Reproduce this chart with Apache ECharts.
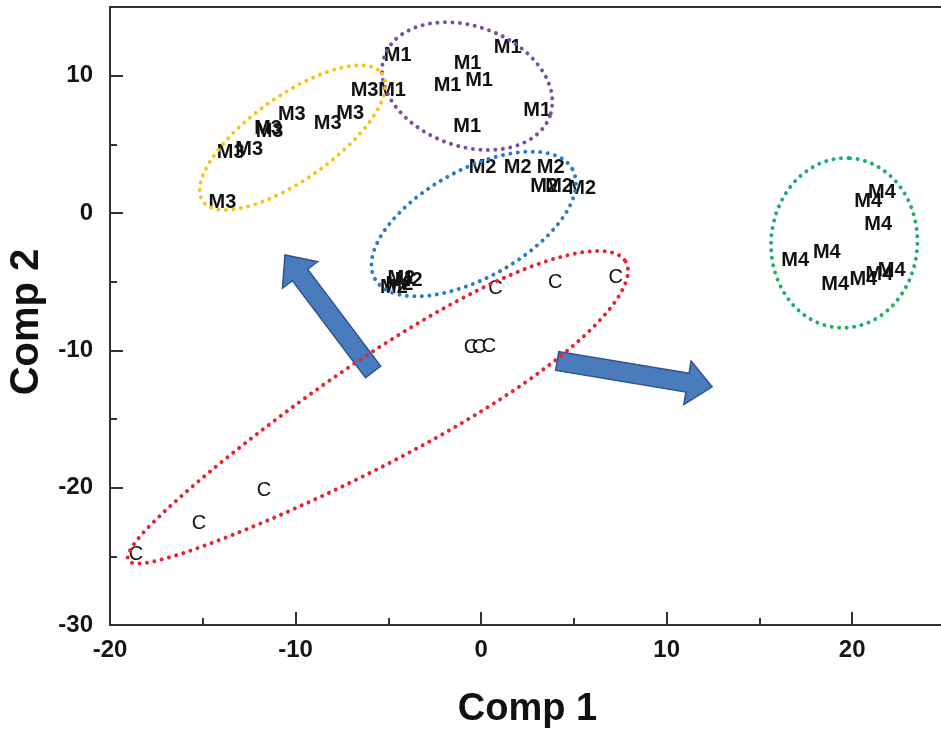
<!DOCTYPE html>
<html>
<head>
<meta charset="utf-8">
<script src="https://cdn.jsdelivr.net/npm/echarts@6/dist/echarts.min.js"></script>
<style>
  html, body { margin: 0; padding: 0; background: #ffffff; }
  #chart { width: 941px; height: 732px; }
</style>
</head>
<body>
<div id="chart"></div>
<script>
// Score plot: sample labels placed at their (Comp 1, Comp 2) coordinates
const xTickValues = [-20, -10, 0, 10, 20];
const yTickValues = [-30, -20, -10, 0, 10];

const m1Scores = [[-4.5, 11.46], [1.43, 12.04], [-0.73, 10.88], [-1.81, 9.32], [-0.11, 9.68],
                  [-4.8, 8.95], [3.02, 7.5], [-0.75, 6.33]];
const m2Scores = [[0.08, 3.31], [1.97, 3.31], [3.75, 3.31], [3.4, 1.95], [4.2, 1.9], [5.45, 1.75],
                  [-4.3, -4.8], [-3.9, -4.9], [-4.7, -5.4], [-4.4, -5.2]];
const m3Scores = [[-6.28, 8.92], [-10.2, 7.17], [-11.48, 6.15], [-11.4, 5.95], [-8.27, 6.51],
                  [-7.06, 7.24], [-13.5, 4.44], [-12.5, 4.62], [-13.94, 0.76]];
const m4Scores = [[21.6, 1.49], [20.86, 0.84], [21.4, -0.87], [18.63, -2.87], [16.93, -3.46],
                  [19.08, -5.2], [20.6, -4.84], [21.46, -4.48], [22.13, -4.15]];
const cScores = [[-11.7, -20.2], [-15.2, -22.6], [-18.6, -24.85], [0.78, -5.5], [4.0, -5.06],
                 [7.25, -4.7], [-0.54, -9.8], [-0.11, -9.8], [0.43, -9.7]];

// Dotted group outlines: centre in data units, semi-axes in Comp 1 units, tilt in screen degrees
const outlineCenters = [[-0.75, 9.24], [-10.16, 5.49], [-0.4, -0.8], [19.57, -2.18], [-5.61, -14.41]];
const outlineMajor   = [4.74, 5.93, 6.09, 4.58, 15.63];
const outlineMinor   = [3.23, 2.26, 2.91, 3.94, 2.8];
const outlineTilt    = [20, -35.4, -29, -86, -31];
const outlineTaper   = [0, 0, 0, 0, 0.3];
const outlineColors  = ['#7a4ea8', '#f7c51a', '#2a7cc7', '#1faf66', '#e8222f'];

// Shift arrows: tail and tip in data units
const arrowTails = [[-5.82, -11.57], [4.1, -10.77]];
const arrowTips  = [[-10.57, -3.06], [12.45, -12.66]];

const FONT = '"Liberation Sans", Arial, sans-serif';
const chart = echarts.init(document.getElementById('chart'), null, { renderer: 'canvas' });

function renderOutline(params, api) {
  const i = params.dataIndex;
  const unit = api.size([1, 0])[0];
  const c = api.coord(outlineCenters[i]);
  const th = outlineTilt[i] * Math.PI / 180;
  const a = outlineMajor[i] * unit;
  const b0 = outlineMinor[i] * unit;
  const k = outlineTaper[i];
  const pts = [];
  const n = 240;
  for (let s = 0; s < n; s++) {
    const t = s / n * 2 * Math.PI;
    const b = b0 * (1 + k * Math.cos(t));
    const ex = a * Math.cos(t);
    const ey = b * Math.sin(t);
    pts.push([c[0] + ex * Math.cos(th) - ey * Math.sin(th),
              c[1] + ex * Math.sin(th) + ey * Math.cos(th)]);
  }
  return {
    type: 'polygon',
    shape: { points: pts },
    style: {
      fill: 'none',
      stroke: outlineColors[i],
      lineWidth: 4,
      lineDash: [0.01, 7.5],
      lineCap: 'round'
    }
  };
}

function renderArrow(params, api) {
  const i = params.dataIndex;
  const p0 = api.coord(arrowTails[i]);
  const p1 = api.coord(arrowTips[i]);
  const dx = p1[0] - p0[0], dy = p1[1] - p0[1];
  const len = Math.sqrt(dx * dx + dy * dy);
  const ux = dx / len, uy = dy / len;
  const nx = -uy, ny = ux;
  const shaft = 9.5, head = 22, headLen = 25;
  const bx = p1[0] - ux * headLen, by = p1[1] - uy * headLen;
  const pts = [
    [p0[0] + nx * shaft, p0[1] + ny * shaft],
    [bx + nx * shaft, by + ny * shaft],
    [bx + nx * head, by + ny * head],
    [p1[0], p1[1]],
    [bx - nx * head, by - ny * head],
    [bx - nx * shaft, by - ny * shaft],
    [p0[0] - nx * shaft, p0[1] - ny * shaft]
  ];
  return {
    type: 'polygon',
    shape: { points: pts },
    style: { fill: '#4a7cbd', stroke: '#2f5690', lineWidth: 1.5 }
  };
}

// Each sample is drawn as its group name, centred on its score
function labelSeries(name, data, weight, size) {
  return {
    name: name,
    type: 'custom',
    data: data,
    encode: { x: 0, y: 1 },
    clip: false,
    silent: true,
    z: 3,
    renderItem: function (params, api) {
      const p = api.coord([api.value(0), api.value(1)]);
      return {
        type: 'text',
        x: p[0],
        y: p[1],
        style: {
          text: name,
          font: weight + ' ' + size + 'px ' + FONT,
          fill: '#111111',
          align: 'center',
          verticalAlign: 'middle'
        }
      };
    }
  };
}

const axisColor = '#333333';

chart.setOption({
  animation: false,
  backgroundColor: '#ffffff',
  grid: {
    left: 110, right: -4, top: 7, bottom: 107,
    outerBoundsMode: 'none',
    containLabel: false,
    show: true, borderColor: axisColor, borderWidth: 2, backgroundColor: 'transparent'
  },
  xAxis: {
    type: 'value',
    min: -20, max: 25, interval: 10,
    name: 'Comp 1',
    nameLocation: 'middle',
    nameGap: 66,
    nameTextStyle: { fontFamily: FONT, fontWeight: 'bold', fontSize: 38, color: '#111' },
    axisLine: { onZero: false, lineStyle: { color: axisColor, width: 2 } },
    axisTick: { inside: true, length: 13, lineStyle: { color: axisColor, width: 2 } },
    minorTick: { show: true, splitNumber: 2, length: 7, lineStyle: { color: axisColor, width: 2 } },
    splitLine: { show: false },
    axisLabel: {
      margin: 13,
      fontFamily: FONT, fontWeight: 'bold', fontSize: 24, color: '#151515',
      formatter: v => (xTickValues.indexOf(v) >= 0 ? String(v) : '')
    }
  },
  yAxis: {
    type: 'value',
    min: -30, max: 15, interval: 10,
    name: 'Comp 2',
    nameLocation: 'middle',
    nameGap: 63,
    nameRotate: 90,
    nameTextStyle: { fontFamily: FONT, fontWeight: 'bold', fontSize: 40, color: '#111', padding: [0, 12, 0, 0] },
    axisLine: { onZero: false, lineStyle: { color: axisColor, width: 2 } },
    axisTick: { inside: true, length: 13, lineStyle: { color: axisColor, width: 2 } },
    minorTick: { show: true, splitNumber: 2, length: 7, lineStyle: { color: axisColor, width: 2 } },
    splitLine: { show: false },
    axisLabel: {
      margin: 17,
      fontFamily: FONT, fontWeight: 'bold', fontSize: 24, color: '#151515',
      formatter: v => (yTickValues.indexOf(v) >= 0 ? String(v) : '')
    }
  },
  series: [
    {
      type: 'custom',
      renderItem: renderArrow,
      data: arrowTails.map((p, i) => [p[0], p[1], i]),
      encode: { x: 0, y: 1 },
      clip: false,
      silent: true,
      z: 2
    },
    labelSeries('M1', m1Scores, 'bold', 20),
    labelSeries('M2', m2Scores, 'bold', 20),
    labelSeries('M3', m3Scores, 'bold', 20),
    labelSeries('M4', m4Scores, 'bold', 20),
    labelSeries('C', cScores, 'normal', 20),
    {
      type: 'custom',
      renderItem: renderOutline,
      data: outlineCenters.map((p, i) => [p[0], p[1], i]),
      encode: { x: 0, y: 1 },
      clip: false,
      silent: true,
      z: 4
    }
  ]
});
</script>
</body>
</html>
